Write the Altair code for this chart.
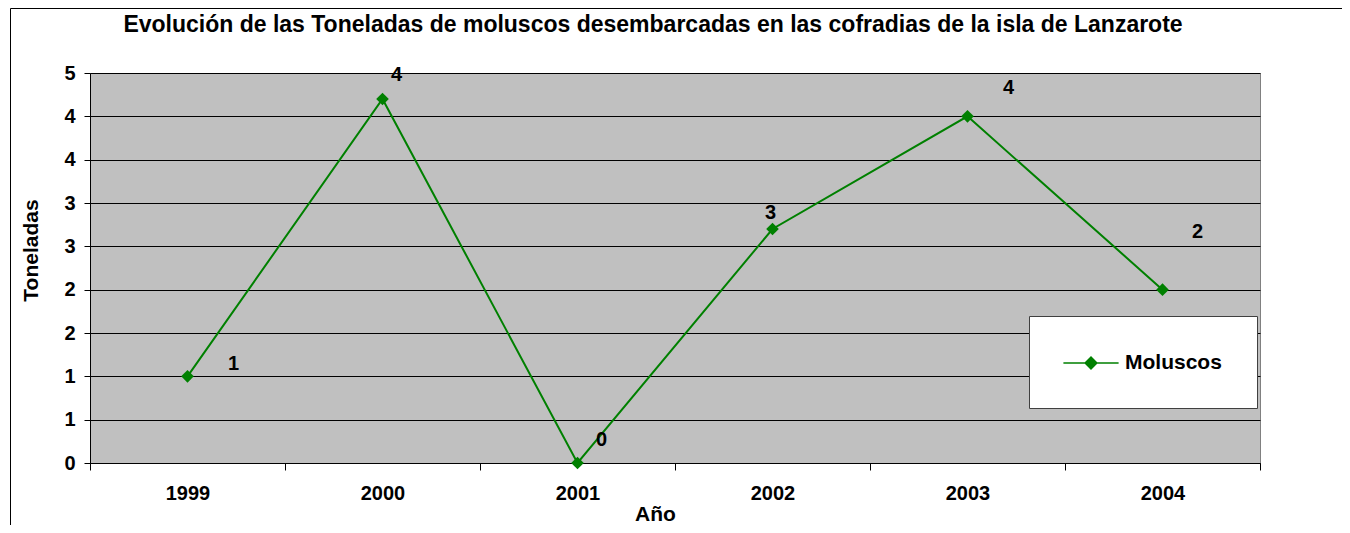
import altair as alt
import pandas as pd

# ---- data ----
years = ["1999", "2000", "2001", "2002", "2003", "2004"]
toneladas = [1.0, 4.2, 0.0, 2.7, 4.0, 2.0]
serie = ["Moluscos"] * len(years)
y_ticks = [0, 0.5, 1, 1.5, 2, 2.5, 3, 3.5, 4, 4.5]

# label offsets (pixels, relative to each point) as placed in the reference
label_dx = [46, 14, 24, -2, 41, 35]
label_dy = [-12, -24, -23, -16, -28, -58]

df = pd.DataFrame({"year": years, "ton": toneladas, "serie": serie})

FONT = "Liberation Sans"
GREEN = "#008000"
TITLE = "Evolución de las Toneladas de moluscos desembarcadas en las cofradias de la isla de Lanzarote"

# legend symbol: a line with a diamond on it
LEG_PATH = ("M-2.3,-0.07 L2.3,-0.07 L2.3,0.07 L-2.3,0.07 Z "
            "M0,-0.58 L0.58,0 L0,0.58 L-0.58,0 Z")

x_enc = alt.X(
    "year:O", sort=years, title="Año", bandPosition=0.5,
    scale=alt.Scale(type="band", paddingInner=0, paddingOuter=0),
    axis=alt.Axis(
        labelAngle=0, tickBand="extent", tickSize=7, tickColor="black",
        domainColor="black", labelPadding=13, labelFontSize=20,
        labelFont=FONT, labelFontWeight="bold", labelColor="black",
        titleFont=FONT, titleFontSize=21, titleFontWeight="bold",
        titleColor="black", titleX=565, titleY=57,
        titleBaseline="alphabetic", titleAlign="center", grid=False,
    ),
)
y_enc = alt.Y(
    "ton:Q", title="Toneladas",
    scale=alt.Scale(domain=[0, 4.5], nice=False, zero=True),
    axis=alt.Axis(
        values=y_ticks, labelExpr="round(datum.value)", tickSize=6,
        tickColor="black", domainColor="black", labelPadding=9,
        labelFontSize=20, labelFont=FONT, labelFontWeight="bold",
        labelColor="black", grid=True, gridColor="black", gridWidth=1,
        titleFont=FONT, titleFontSize=21, titleFontWeight="bold",
        titleColor="black", titleX=-53, titleY=177,
        titleBaseline="alphabetic", titleAlign="center",
    ),
)

base = alt.Chart(df)

line = base.mark_line(color=GREEN, strokeWidth=2).encode(x=x_enc, y=y_enc)

points = base.mark_point(shape="diamond", filled=True, size=160, opacity=1).encode(
    x=x_enc, y=y_enc,
    color=alt.Color(
        "serie:N", scale=alt.Scale(range=[GREEN]),
        legend=alt.Legend(
            title=None, orient="none", legendX=939, legendY=243,
            fillColor="white", strokeColor="#404040", padding=35,
            symbolType=LEG_PATH, symbolSize=576, symbolOffset=15,
            symbolStrokeWidth=0, symbolOpacity=1, labelOffset=22,
            labelFont=FONT, labelFontSize=21, labelFontWeight="bold",
            labelColor="black",
        ),
    ),
)

labels = []
for i, yr in enumerate(years):
    labels.append(
        base.transform_filter(alt.datum.year == yr)
        .mark_text(dx=label_dx[i], dy=label_dy[i], font=FONT, fontSize=20,
                   fontWeight="bold", color="black", align="center",
                   baseline="middle")
        .encode(x=x_enc, y=y_enc, text=alt.Text("ton:Q", format=".0f"))
    )

border = alt.Chart(pd.DataFrame({"k": [0]})).mark_rect(
    fillOpacity=0, stroke="black", strokeWidth=1
).encode(x=alt.value(-79.5), x2=alt.value(1400),
         y=alt.value(-64.5), y2=alt.value(600))

chart = alt.layer(border, line, points, *labels).properties(
    width=1170, height=390,
    background="white",
    autosize=alt.AutoSizeParams(type="none"),
    padding={"left": 82, "top": 65, "right": 82, "bottom": 62},
    title=alt.Title(
        TITLE, font=FONT, fontSize=23, fontWeight="bold", color="black",
        anchor="middle", frame="group", dx=-22, baseline="alphabetic",
        offset=-47,
    ),
).configure_view(
    fill="#C0C0C0", stroke="#808080", strokeWidth=1
)

chart.save("out.html", embed_options={"renderer": "svg", "actions": False})
